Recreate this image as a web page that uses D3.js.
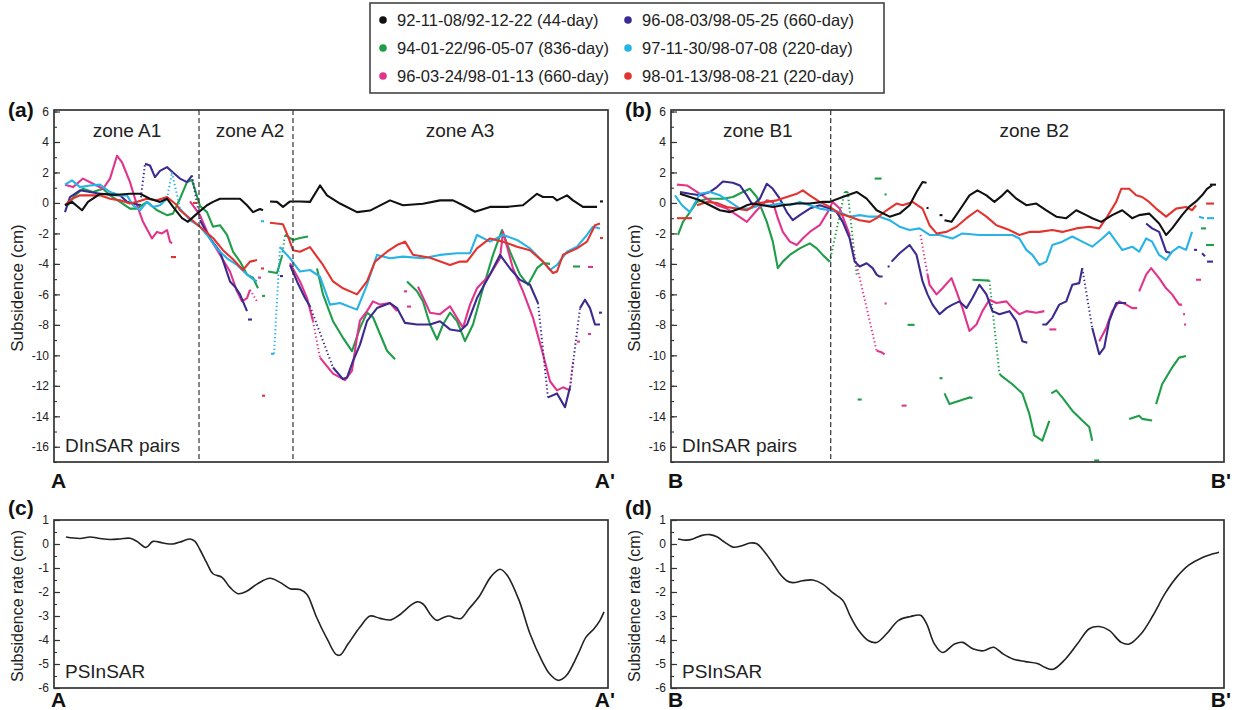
<!DOCTYPE html>
<html>
<head>
<meta charset="utf-8">
<script src="https://cdn.jsdelivr.net/npm/d3@7"></script>
<style>
  body { margin: 0; background: #fff; }
  svg text { font-family: "Liberation Sans", Arial, Helvetica, sans-serif; }
</style>
</head>
<body>
<svg id="fig" width="1234" height="710"></svg>
<script>
// ---------------------------------------------------------------
// Subsidence profiles A-A' and B-B'
// Distance along each profile is in arbitrary units (0 .. 55.4).
// Point lists: [distance, value]; null = gap, "~" = sparse (dotted) jump.
// ---------------------------------------------------------------

const seriesLabels = [
  "92-11-08/92-12-22 (44-day)",
  "94-01-22/96-05-07 (836-day)",
  "96-03-24/98-01-13 (660-day)",
  "96-08-03/98-05-25 (660-day)",
  "97-11-30/98-07-08 (220-day)",
  "98-01-13/98-08-21 (220-day)"
];
const seriesColors = ["#111111", "#1f9d48", "#e1348b", "#3b2b8f", "#28b3e6", "#e2332f"];

const dinsarTicks = [6, 4, 2, 0, -2, -4, -6, -8, -10, -12, -14, -16];
const psTicks = [1, 0, -1, -2, -3, -4, -5, -6];

const zonesA = [{ name: "zone A1", at: 7.3 }, { name: "zone A2", at: 19.6 }, { name: "zone A3", at: 40.6 }];
const zonesB = [{ name: "zone B1", at: 8.7 }, { name: "zone B2", at: 36.4 }];
const zoneBreaksA = [14.5, 23.9];
const zoneBreaksB = [16.0];

// ---- profile A-A' (DInSAR pairs) ----
const aBlack = [[1.1,-0.15],[1.8,0.07],[2.8,-0.48],[3.4,0.07],[4.6,0.6],[6.3,0.54],[7.6,0.6],[8.6,0.6],[9.6,0.28],[10.6,0.07],[11.3,0.28],[11.9,-0.26],[12.8,-1.0],[13.4,-1.24],[14.3,-0.7],[15.3,-0.15],[15.9,0.07],[16.6,0.28],[17.6,0.28],[18.6,0.28],[19.3,-0.15],[19.9,-0.6],[20.6,-0.4],[20.9,-0.48],null,[21.6,0.1],[22.3,0.07],[22.9,-0.26],[23.6,0.1],[24.6,0.1],[25.6,0.07],[26.6,1.15],[27.3,0.5],[28.6,-0.04],[30.3,-0.6],[31.6,-0.5],[33.6,0.17],[34.9,-0.15],[36.9,-0.05],[38.6,0.17],[39.9,0.17],[40.9,-0.15],[42.1,-0.58],[43.6,-0.26],[45.3,-0.26],[46.9,-0.15],[48.3,0.6],[48.9,0.39],[49.9,0.39],[50.3,0.17],[51.3,0.5],[51.9,0.17],[52.9,-0.26],[54.3,-0.26],null,[54.6,0.1],[54.9,0.1]];

const aGreen = [[1.4,-0.15],[2.1,0.5],[2.9,0.93],[3.9,0.72],[4.9,0.93],[5.6,0.5],[6.6,0.07],[7.6,-0.37],[8.3,-0.37],[9.3,0.07],[10.3,-0.48],[11.3,-0.8],[11.9,-0.7],[12.6,0.28],[13.3,1.37],[13.8,1.5],[14.6,-0.2],[15.3,-0.6],[15.9,-1.56],[16.6,-1.46],[17.3,-2.1],[17.9,-3.2],[18.6,-3.85],[19.3,-4.7],[19.9,-4.9],[20.4,-5.6],null,[20.8,-6.1],[21.1,-6.1],null,[21.4,-4.5],[22.3,-4.6],[22.8,-3.5],"~",[23.1,-2.1],[23.9,-2.43],[24.6,-2.3],[25.4,-2.2],null,[26.3,-4.3],[26.9,-6.0],[27.9,-7.76],[28.9,-8.85],[29.8,-9.72],[30.6,-8.2],[31.3,-7.2],[31.9,-7.5],[32.6,-8.6],[33.3,-9.7],[34.1,-10.26],null,[35.3,-5.15],[36.3,-5.8],[36.9,-6.46],[37.6,-7.98],[38.3,-8.96],[38.9,-7.98],[39.6,-7.2],[40.3,-7.76],[41.1,-9.07],[41.9,-7.98],[42.9,-5.6],[43.9,-3.41],[44.8,-1.78],[45.6,-3.2],[46.6,-4.7],[47.4,-5.37],[48.3,-4.28],[48.9,-3.95],[49.6,-4.0],null,[51.9,-4.17],[52.6,-4.17]];

const aPink = [[1.1,1.2],[1.9,1.04],[2.9,1.6],[3.9,1.26],[4.9,0.93],[5.6,1.6],[6.3,3.1],[6.8,2.67],[7.6,1.37],[8.3,-0.15],[8.9,-1.24],[9.8,-2.33],[10.3,-1.9],[10.8,-2.0],[11.3,-1.78],[11.6,-2.54],[11.8,-2.65],null,[13.6,0.1],[14.6,-0.8],[15.6,-2.33],[16.6,-3.4],[17.6,-4.5],[18.3,-5.8],[18.8,-6.46],[19.3,-6.24],[19.6,-5.7],"~",[20.4,-6.57],null,[20.4,-4.9],[20.7,-4.9],null,[23.6,-3.96],[24.6,-5.15],[25.3,-6.24],[25.9,-7.76],"~",[26.6,-10.15],[27.9,-11.2],[29.1,-11.63],[29.8,-11.0],[30.3,-8.8],[30.6,-7.7],[31.3,-7.1],[31.9,-6.46],[32.6,-6.67],[33.6,-6.57],[34.3,-7.1],null,[35.0,-5.8],[35.3,-5.8],null,[35.3,-6.8],[35.7,-6.8],null,[36.4,-5.5],[36.9,-6.2],[37.6,-7.2],[38.6,-7.3],[39.6,-6.78],[40.3,-7.54],[40.9,-8.2],[41.6,-6.67],[42.3,-5.6],[43.6,-4.7],[44.6,-3.63],[44.9,-1.9],[45.9,-4.3],[46.9,-5.8],[47.9,-7.54],[48.9,-9.93],[49.6,-11.7],[50.3,-12.3],[50.9,-12.1],[51.6,-12.3],"~",[51.9,-10.4],null,[52.3,-9.1],[52.6,-9.1],null,[53.4,-8.6],[53.7,-8.6],null,[53.4,-4.2],[53.9,-4.2]];

const aBlue = [[1.1,-0.6],[1.6,0.39],[2.6,0.83],[3.6,0.72],[4.6,0.6],[5.6,0.54],[6.6,0.5],[7.3,0.07],[8.6,-0.15],"~",[9.1,2.57],[9.6,2.46],[10.1,1.7],[10.6,2.1],[11.3,2.35],[11.9,2.0],[12.6,1.6],[13.3,1.37],[13.8,1.8],"~",[14.6,-1.13],[15.6,-2.33],[16.6,-3.2],[17.6,-5.15],[18.1,-5.5],[18.6,-6.0],[19.3,-7.1],null,[19.4,-7.65],[19.8,-7.65],null,[22.6,-4.8],[22.9,-4.8],null,[23.6,-4.07],[24.3,-5.15],[25.1,-6.24],[25.6,-6.78],"~",[27.9,-10.8],[28.9,-11.56],[29.3,-11.46],[29.9,-10.37],[30.6,-9.3],[31.3,-7.76],[32.3,-6.9],[33.6,-6.57],[34.3,-6.9],[35.1,-7.87],[36.3,-7.98],[37.6,-7.98],[38.6,-7.76],[39.6,-8.3],[40.6,-8.4],[41.3,-7.98],[42.3,-6.24],[43.6,-4.7],[44.6,-3.41],[45.6,-4.3],[46.6,-5.05],[47.6,-5.37],[48.4,-6.57],"~",[49.4,-12.76],[50.3,-12.5],[51.1,-13.4],[51.6,-12.1],"~",[52.6,-6.9],[53.1,-6.35],[53.6,-6.9],[54.1,-7.98],[54.6,-7.98],null,[54.5,-7.2],[54.8,-7.2]];

const aCyan = [[1.1,1.2],[1.8,1.48],[2.6,1.04],[3.6,1.15],[4.6,1.2],[5.6,0.72],[6.6,0.5],[7.3,0.5],[7.9,-0.15],[8.6,-0.48],[9.3,0.07],[9.9,-0.26],[10.6,-0.15],[11.3,0.28],"~",[11.8,2.0],"~",[12.6,-0.37],[13.6,-1.13],[14.6,-1.56],[15.3,-2.1],[16.3,-3.0],[17.3,-3.63],[18.3,-4.07],[19.3,-4.7],[19.9,-5.0],[20.3,-5.15],null,[20.7,-1.2],[21.0,-1.2],null,[21.7,-9.9],[22.0,-9.9],"~",[22.6,-2.9],[23.6,-3.63],[24.6,-4.5],[25.6,-4.4],[26.6,-4.83],[27.6,-6.67],[28.6,-6.57],[30.3,-7.0],[31.3,-5.37],[32.3,-3.41],[33.6,-3.63],[34.9,-3.52],[36.9,-3.63],[38.6,-3.41],[40.3,-3.3],[41.6,-3.3],[42.3,-2.1],[43.6,-2.54],[44.9,-2.1],[46.3,-2.43],[47.6,-2.98],[48.9,-3.85],[49.6,-4.4],[50.3,-4.07],[51.3,-3.2],[52.3,-2.87],[53.3,-2.1],[53.9,-1.56],[54.6,-1.67]];

const aRed = [[1.1,-0.15],[1.8,0.28],[2.6,0.5],[3.6,0.5],[4.6,0.5],[5.6,0.28],[6.6,0.17],[7.6,-0.04],[8.4,0.1],[9.3,0.28],[10.3,0.17],[11.3,0.39],[12.3,-0.15],[12.6,-0.48],[14.6,-1.56],[15.9,-2.3],[16.9,-3.1],[17.9,-3.7],[18.9,-4.4],[19.6,-3.85],[20.3,-3.75],null,[20.7,-4.3],[21.0,-4.3],null,[21.6,-1.3],[22.9,-1.4],[23.4,-2.2],[23.9,-3.1],[24.6,-3.2],[25.6,-2.9],[26.9,-4.07],[27.9,-5.15],[28.9,-5.6],[30.3,-6.0],[31.3,-5.15],[32.1,-3.85],[33.3,-3.2],[34.3,-2.76],[35.1,-2.54],[35.9,-3.4],[37.6,-3.6],[39.6,-4.07],[40.6,-3.85],[41.3,-3.85],[42.3,-2.98],[43.6,-2.33],[44.9,-2.54],[46.3,-2.87],[47.6,-3.1],[48.9,-3.85],[49.9,-4.6],[50.3,-4.5],[50.9,-3.4],[52.3,-2.98],[53.3,-2.54],[54.1,-1.46],[54.6,-1.35],null,[13.9,0.0],[14.3,0.0],null,[11.7,-3.55],[12.2,-3.55],null,[20.8,-12.65],[21.1,-12.65],null,[54.6,-2.3],[54.9,-2.3]];

// ---- profile B-B' (DInSAR pairs) ----
const bBlack = [[0.9,0.6],[1.9,0.39],[2.9,0.17],[3.9,-0.15],[4.9,-0.48],[5.9,-0.6],[6.9,-0.37],[7.6,-0.15],[8.2,-0.04],[9.2,-0.15],[10.2,-0.26],[11.2,-0.15],[12.6,-0.04],[13.9,-0.04],[15.2,0.07],[15.9,0.07],[17.2,0.39],[18.6,0.72],[19.6,0.28],[20.6,-0.48],[21.9,-0.9],[22.9,-0.7],[23.9,-0.15],[24.6,0.72],[25.2,1.37],[25.6,1.33],null,[25.6,-0.33],[25.8,-0.33],null,[26.9,-0.8],[27.2,-0.8],null,[27.4,-1.13],[28.1,-1.24],[28.9,-0.48],[29.9,0.5],[30.7,0.83],[31.6,0.5],[32.4,0.07],[33.2,0.5],[33.7,0.83],[34.6,0.28],[35.6,-0.15],[36.6,-0.04],[37.6,-0.48],[38.6,-0.9],[39.6,-1.0],[40.6,-0.48],[41.6,-0.8],[42.2,-1.0],[43.1,-1.24],[44.2,-0.8],[45.2,-0.48],[46.2,-1.0],[46.9,-0.8],[47.9,-0.7],[48.9,-1.35],[49.6,-2.1],[50.2,-1.67],[51.2,-0.8],[51.9,-0.26],[52.6,0.1],[53.2,0.5],[53.7,0.93],[54.2,1.15],null,[54.0,1.2],[54.6,1.2]];

const bGreen = [[0.7,-2.1],[1.2,-1.24],[1.9,-0.6],[2.6,0.07],[3.6,0.28],[5.2,0.28],[6.2,0.39],[7.2,0.72],[7.9,0.93],[8.6,0.39],[9.6,-1.24],[10.2,-2.54],[10.7,-4.28],[11.2,-3.85],[11.9,-3.41],[12.9,-2.98],[13.9,-2.65],[14.6,-2.98],[15.2,-3.41],[15.9,-3.85],"~",[17.4,0.72],[17.7,0.72],"~",[18.6,-4.7],null,[20.4,1.6],[21.1,1.6],null,[21.4,0.56],[21.6,0.56],null,[23.7,-8.0],[24.4,-8.0],null,[18.7,-12.9],[19.1,-12.9],null,[26.9,-11.5],[27.2,-11.5],null,[27.4,-12.5],[27.9,-13.2],[28.9,-12.98],[29.9,-12.76],[30.2,-12.8],null,[30.2,-5.04],[31.9,-5.1],"~",[32.9,-11.2],[33.1,-11.35],[34.2,-11.9],[35.2,-12.5],[35.9,-13.85],[36.4,-15.26],[37.2,-15.6],[37.9,-14.3],null,[38.1,-12.5],[38.6,-12.3],[39.2,-12.76],[40.2,-13.63],[41.2,-14.28],[41.9,-14.7],[42.2,-15.6],null,[42.4,-16.9],[42.9,-16.9],null,[45.9,-14.17],[46.9,-13.96],[47.2,-14.17],[48.2,-14.28],null,[48.6,-13.2],[49.2,-11.9],[50.2,-10.8],[50.9,-10.15],[51.6,-10.04],null,[53.1,-1.67],[53.6,-1.67],null,[53.6,-2.76],[54.4,-2.76]];

const bPink = [[0.6,1.2],[1.6,1.15],[2.6,0.72],[3.6,0.28],[4.6,-0.15],[5.6,-0.37],[6.6,-0.8],[7.6,-1.24],[8.6,-0.48],[9.6,0.17],[10.2,0.07],[10.7,-1.0],[11.2,-1.9],[11.9,-2.54],[12.6,-2.76],[13.2,-2.33],[13.9,-1.9],[14.9,-1.46],[15.7,-0.6],[16.2,0.07],[16.9,-0.37],[17.9,-2.1],"~",[20.6,-9.7],[21.1,-9.8],[21.4,-9.93],null,[21.4,-6.6],[21.6,-6.6],null,[23.1,-13.3],[23.6,-13.3],null,[25.0,-2.1],"~",[25.7,-4.7],[25.9,-5.37],[26.6,-6.0],[27.2,-5.6],[28.1,-4.93],[28.6,-5.8],[29.2,-6.9],[29.9,-8.4],[30.6,-7.98],[31.2,-7.1],[31.9,-6.35],[32.6,-6.57],[33.6,-6.46],[34.2,-6.9],[34.9,-7.3],[35.6,-7.1],[36.6,-7.2],[37.4,-7.1],null,[37.9,-8.3],[38.6,-8.3],null,[42.9,-9.07],[43.6,-8.2],[44.2,-7.1],[44.9,-6.46],[45.6,-6.67],[46.2,-6.9],[46.7,-6.9],null,[46.9,-5.8],[47.6,-4.7],[48.1,-4.28],[48.9,-4.93],[49.6,-5.6],[50.2,-6.0],[50.9,-6.67],[51.2,-6.67],null,[51.3,-7.3],[51.5,-7.3],null,[51.4,-7.98],[51.6,-7.98],null,[52.6,-5.04],[53.1,-5.04]];

const bBlue = [[0.9,0.72],[1.9,0.6],[2.9,0.5],[3.9,0.72],[4.6,1.04],[5.2,1.41],[6.2,1.33],[6.9,1.15],[7.6,0.5],[8.2,-0.15],[8.9,0.28],[9.6,1.26],[10.2,0.93],[10.9,0.28],[11.6,-0.6],[12.2,-1.13],[12.9,-0.8],[13.9,-0.37],[14.9,-0.15],[15.9,-0.37],[16.6,-0.6],[17.2,-1.24],[17.9,-2.33],[18.4,-3.85],[18.9,-4.17],[19.6,-3.96],[20.2,-4.28],[20.6,-4.7],[20.9,-4.83],[21.2,-4.83],null,[21.7,-4.17],[21.9,-4.17],null,[22.1,-3.85],[22.9,-3.3],[23.9,-2.76],[24.6,-3.41],[25.2,-5.15],[25.7,-6.0],[26.2,-6.67],[26.9,-7.3],[27.6,-6.9],[28.2,-6.67],[28.9,-6.46],[29.6,-6.9],[30.2,-6.24],[30.9,-5.37],[31.6,-6.0],[32.2,-7.1],[32.9,-7.3],[33.9,-7.1],[34.6,-7.76],[35.2,-9.07],[35.7,-9.17],null,[37.2,-7.98],[37.6,-7.98],[38.2,-7.54],[38.9,-6.67],[39.6,-6.46],[40.2,-5.37],[40.9,-5.26],[41.2,-4.28],"~",[42.2,-8.2],[42.9,-9.93],[43.4,-9.5],[43.9,-7.76],[44.6,-6.57],[45.6,-6.57],null,[47.6,-1.35],[48.2,-1.67],[48.9,-1.9],[49.6,-3.2],[50.2,-3.3],null,[52.4,-3.08],[52.7,-3.08],null,[53.2,-3.3],[53.5,-3.5],null,[53.7,-3.85],[54.3,-3.85]];

const bCyan = [[0.4,0.5],[1.1,-0.15],[1.9,-0.6],[2.9,0.6],[3.9,0.72],[4.9,0.5],[5.9,0.07],[6.9,-0.37],[7.9,-0.37],[8.9,-0.15],[9.9,-0.15],[10.9,-0.04],[11.9,-0.15],[12.9,0.07],[13.9,-0.15],[14.9,-0.37],[15.9,-0.48],[16.9,-0.6],[17.9,-0.9],[18.9,-0.8],[19.9,-0.9],[20.9,-0.9],[21.9,-1.13],[22.9,-1.56],[23.9,-1.78],[24.9,-1.67],[25.9,-2.1],[26.9,-2.1],[28.2,-2.33],[29.2,-2.0],[30.9,-2.1],[32.6,-2.1],[34.2,-2.1],[34.9,-2.33],[35.6,-3.08],[36.2,-3.41],[36.9,-4.07],[37.6,-3.85],[38.2,-2.76],[39.2,-2.54],[40.2,-2.2],[41.2,-2.54],[42.2,-2.87],[43.2,-2.33],[43.9,-1.9],[44.6,-2.54],[45.2,-3.08],[46.2,-2.87],[46.9,-3.2],[47.6,-2.33],[48.2,-2.54],[48.9,-3.41],[49.6,-3.74],[50.2,-3.2],[50.9,-2.87],[51.6,-3.08],[52.2,-1.9],null,[52.9,-0.9],[53.4,-1.0],null,[53.7,-1.0],[54.4,-1.0]];

const bRed = [[0.6,-1.0],[2.1,-1.0],null,[2.6,-0.15],[3.6,0.07],[4.6,0.0],[5.6,-0.26],[6.6,-0.37],[7.6,-0.48],[8.6,-0.04],[9.6,0.07],[10.6,0.17],[11.6,0.39],[12.6,0.6],[13.2,0.83],[13.9,0.5],[14.9,0.07],[15.9,-0.26],[16.9,-0.7],[17.9,-0.9],[18.9,-1.13],[19.9,-1.24],[20.6,-1.0],[21.6,-0.48],[22.6,-0.04],[23.2,-0.15],[24.2,0.07],[25.2,-0.37],[25.9,-1.46],[26.6,-2.0],[27.6,-1.9],[28.6,-1.56],[29.6,-1.0],[30.7,-0.48],[31.6,-0.9],[32.6,-1.46],[33.9,-1.78],[34.9,-2.1],[35.9,-1.9],[36.9,-1.9],[38.2,-1.78],[39.2,-1.9],[40.6,-1.67],[41.9,-1.56],[42.9,-1.67],[43.6,-1.0],[44.6,0.07],[45.1,0.93],[45.9,0.93],[46.6,0.5],[47.2,0.39],[47.9,0.07],[48.6,-0.37],[49.6,-0.9],[50.6,-0.37],[51.6,-0.26],[52.2,-0.48],[52.6,-0.15],null,[53.6,-0.04],[54.4,-0.04]];

// ---- PSInSAR subsidence rate along A-A' and B-B' ----
const psA = [[1.2,0.29],[2.6,0.23],[3.6,0.29],[4.6,0.23],[5.6,0.19],[6.6,0.21],[7.6,0.24],[8.3,0.11],[9.2,-0.14],[9.9,0.11],[10.9,0.04],[11.9,0.0],[12.8,0.11],[13.6,0.21],[14.1,0.11],[14.6,-0.24],[15.3,-0.81],[15.9,-1.24],[16.8,-1.39],[17.6,-1.81],[18.4,-2.07],[19.3,-1.96],[20.3,-1.67],[21.6,-1.43],[22.6,-1.6],[23.6,-1.86],[24.6,-1.9],[25.3,-2.1],[25.9,-2.67],[26.2,-3.0],[27.4,-4.03],[28.2,-4.6],[28.6,-4.63],[29.4,-4.17],[30.6,-3.46],[31.6,-3.0],[32.6,-3.1],[33.7,-3.16],[34.5,-2.97],[35.7,-2.55],[36.3,-2.41],[36.9,-2.5],[37.7,-2.97],[38.3,-3.18],[38.9,-3.07],[39.5,-3.0],[40.1,-3.08],[40.7,-3.1],[41.5,-2.7],[42.5,-2.2],[43.7,-1.36],[44.6,-1.05],[45.3,-1.29],[46.5,-2.34],[47.6,-3.74],[48.8,-4.87],[49.6,-5.43],[50.4,-5.68],[51.2,-5.5],[52.4,-4.59],[53.2,-3.88],[54.0,-3.53],[54.6,-3.18],[55.0,-2.83]];

const psB = [[0.7,0.21],[1.6,0.16],[2.2,0.21],[3.1,0.36],[3.9,0.39],[4.6,0.3],[5.4,0.07],[6.2,-0.13],[7.1,-0.07],[7.9,0.04],[8.6,0.01],[9.2,-0.24],[10.1,-0.74],[10.9,-1.24],[11.6,-1.53],[12.2,-1.61],[13.2,-1.53],[14.2,-1.5],[15.2,-1.67],[16.2,-2.03],[17.2,-2.34],[18.0,-3.04],[18.8,-3.6],[19.8,-4.03],[20.6,-4.1],[21.6,-3.74],[22.8,-3.18],[24.0,-3.02],[25.0,-2.97],[25.6,-3.32],[26.4,-4.17],[27.2,-4.52],[28.4,-4.17],[29.2,-4.1],[30.3,-4.38],[31.3,-4.45],[32.3,-4.3],[33.3,-4.59],[34.3,-4.8],[35.5,-4.9],[36.7,-4.98],[37.5,-5.15],[38.3,-5.22],[39.5,-4.8],[40.7,-4.17],[41.9,-3.53],[42.9,-3.44],[43.9,-3.6],[45.1,-4.1],[45.9,-4.17],[47.1,-3.74],[48.3,-2.97],[49.5,-2.06],[50.7,-1.36],[51.9,-0.87],[53.1,-0.59],[54.3,-0.41],[54.9,-0.34]];

// series in legend order: black, green, pink, blue, cyan, red
const profileA = [aBlack, aGreen, aPink, aBlue, aCyan, aRed];
const profileB = [bBlack, bGreen, bPink, bBlue, bCyan, bRed];

// ---------------------------------------------------------------
const svg = d3.select("#fig");
const distDomain = [0, 55.4];
const FRAME = "#333";

// split a point list into solid runs and sparse (dotted) jumps
function splitRuns(list) {
  const solid = [], dotted = [];
  let cur = [], last = null, jump = false;
  for (const p of list) {
    if (p === null) { if (cur.length) solid.push(cur); cur = []; last = null; jump = false; continue; }
    if (p === "~") { if (cur.length) solid.push(cur); cur = []; jump = true; continue; }
    if (jump && last) dotted.push([last, p]);
    jump = false;
    cur.push(p); last = p;
  }
  if (cur.length) solid.push(cur);
  return { solid, dotted };
}

let clipId = 0;
function makePanel(o) {
  const x = d3.scaleLinear().domain(distDomain).range([o.left, o.right]);
  const y = d3.scaleLinear().domain(o.yDomain).range([o.bottom, o.top]);
  const g = svg.append("g");
  const id = "clip" + (clipId++);
  g.append("clipPath").attr("id", id).append("rect")
    .attr("x", o.left).attr("y", o.top)
    .attr("width", o.right - o.left).attr("height", o.bottom - o.top);
  const plot = g.append("g").attr("clip-path", `url(#${id})`);

  // minor ticks
  g.append("g").attr("transform", `translate(${o.left},0)`)
    .call(d3.axisLeft(y).tickValues(o.minor).tickSize(-3).tickFormat(""))
    .call(s => s.select(".domain").remove())
    .call(s => s.selectAll("line").attr("stroke", FRAME).attr("stroke-width", 1.1));
  // major ticks with labels
  g.append("g").attr("transform", `translate(${o.left},0)`)
    .call(d3.axisLeft(y).tickValues(o.major).tickSize(-6).tickPadding(5).tickFormat(d => String(d)))
    .call(s => s.select(".domain").remove())
    .call(s => s.selectAll("line").attr("stroke", FRAME).attr("stroke-width", 1.2))
    .call(s => s.selectAll("text").attr("font-size", 12).attr("fill", "#222")
      .attr("font-family", '"Liberation Sans", Arial, sans-serif'));

  // frame
  g.append("rect").attr("x", o.left).attr("y", o.top)
    .attr("width", o.right - o.left).attr("height", o.bottom - o.top)
    .attr("fill", "none").attr("stroke", FRAME).attr("stroke-width", 1.7);

  // panel letter
  g.append("text").attr("x", o.left - 46).attr("y", o.letterY)
    .attr("font-size", 21).attr("font-weight", "bold").attr("fill", "#111").text(o.letter);

  // y title
  g.append("text")
    .attr("transform", `translate(${o.left - 31},${(o.top + o.bottom) / 2 + 2}) rotate(-90)`)
    .attr("text-anchor", "middle").attr("font-size", o.titleSize).attr("fill", "#222").text(o.yTitle);

  // corner caption
  g.append("text").attr("x", o.left + 11).attr("y", o.bottom - 10)
    .attr("font-size", 19).attr("fill", "#222").text(o.caption);

  // profile end letters
  g.append("text").attr("x", o.left - 3).attr("y", o.endY)
    .attr("font-size", 21).attr("font-weight", "bold").attr("fill", "#111").text(o.ends[0]);
  g.append("text").attr("x", o.right + 7).attr("y", o.endY).attr("text-anchor", "end")
    .attr("font-size", 21).attr("font-weight", "bold").attr("fill", "#111").text(o.ends[1]);

  return { x, y, g, plot };
}

function drawDInSAR(p, series, zones, breaks) {
  // zone separators
  p.g.selectAll(null).data(breaks).join("line")
    .attr("x1", d => p.x(d)).attr("x2", d => p.x(d))
    .attr("y1", p.y.range()[1]).attr("y2", p.y.range()[0])
    .attr("stroke", "#333").attr("stroke-width", 1.2).attr("stroke-dasharray", "5,3");
  p.g.selectAll(null).data(zones).join("text")
    .attr("x", d => p.x(d.at)).attr("y", p.y.range()[1] + 27)
    .attr("text-anchor", "middle").attr("font-size", 19).attr("fill", "#222")
    .text(d => d.name);

  const line = d3.line().x(d => p.x(d[0])).y(d => p.y(d[1]));
  const drawOrder = [1, 2, 3, 4, 5, 0];
  drawOrder.forEach(i => {
    const runs = splitRuns(series[i]);
    const col = seriesColors[i];
    p.plot.selectAll(null).data(runs.dotted).join("path")
      .attr("d", line).attr("fill", "none").attr("stroke", col)
      .attr("stroke-width", 2).attr("stroke-dasharray", "1.3,2.6");
    p.plot.selectAll(null).data(runs.solid.filter(r => r.length > 1)).join("path")
      .attr("d", line).attr("fill", "none").attr("stroke", col)
      .attr("stroke-width", 2.1).attr("stroke-linejoin", "round");
  });
}

function drawPS(p, pts) {
  const line = d3.line().x(d => p.x(d[0])).y(d => p.y(d[1])).curve(d3.curveCatmullRom.alpha(0.5));
  p.plot.append("path").datum(pts).attr("d", line)
    .attr("fill", "none").attr("stroke", "#222").attr("stroke-width", 1.6);
}

const dinsarMajor = dinsarTicks;
const dinsarMinor = d3.range(-17, 7, 1);
const psMajor = psTicks;
const psMinor = d3.range(-6, 1.01, 0.5);

const pa = makePanel({ left: 54, right: 608, top: 110, bottom: 462, yDomain: [-17, 6.1],
  major: dinsarMajor, minor: dinsarMinor, letter: "(a)", letterY: 117, endY: 488, titleSize: 17,
  yTitle: "Subsidence (cm)", caption: "DInSAR pairs", ends: ["A", "A'"] });
drawDInSAR(pa, profileA, zonesA, zoneBreaksA);

const pb = makePanel({ left: 671, right: 1224, top: 110, bottom: 462, yDomain: [-17, 6.1],
  major: dinsarMajor, minor: dinsarMinor, letter: "(b)", letterY: 117, endY: 488, titleSize: 17,
  yTitle: "Subsidence (cm)", caption: "DInSAR pairs", ends: ["B", "B'"] });
drawDInSAR(pb, profileB, zonesB, zoneBreaksB);

const pc = makePanel({ left: 54, right: 608, top: 520, bottom: 688, yDomain: [-6, 1],
  major: psMajor, minor: psMinor, letter: "(c)", letterY: 515, endY: 707, titleSize: 16,
  yTitle: "Subsidence rate (cm)", caption: "PSInSAR", ends: ["A", "A'"] });
drawPS(pc, psA);

const pd = makePanel({ left: 671, right: 1224, top: 520, bottom: 688, yDomain: [-6, 1],
  major: psMajor, minor: psMinor, letter: "(d)", letterY: 515, endY: 707, titleSize: 16,
  yTitle: "Subsidence rate (cm)", caption: "PSInSAR", ends: ["B", "B'"] });
drawPS(pd, psB);

// ---- legend ----
const legend = svg.append("g");
legend.append("rect").attr("x", 370).attr("y", 3).attr("width", 514).attr("height", 90)
  .attr("fill", "#fff").attr("stroke", "#444").attr("stroke-width", 1.6);
const legendItems = seriesLabels.map((label, i) => ({ label, color: seriesColors[i], col: Math.floor(i / 3), row: i % 3 }));
const li = legend.selectAll("g.item").data(legendItems).join("g").attr("class", "item")
  .attr("transform", d => `translate(${383 + d.col * 245},${20 + d.row * 28})`);
li.append("circle").attr("r", 3.8).attr("fill", d => d.color);
li.append("text").attr("x", 14).attr("dy", "0.35em").attr("font-size", 16.5).attr("fill", "#222")
  .text(d => d.label);
</script>
</body>
</html>
